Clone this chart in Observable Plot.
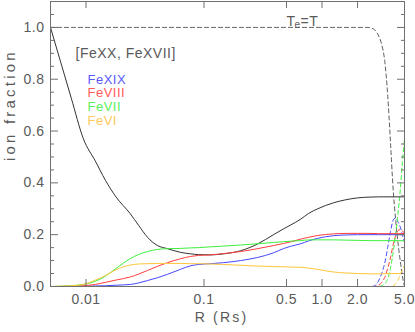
<!DOCTYPE html>
<html><head><meta charset="utf-8">
<script src="https://cdn.jsdelivr.net/npm/d3@7"></script>
<script src="https://cdn.jsdelivr.net/npm/@observablehq/plot@0.6"></script>
<style>
body{margin:0;background:#fff;}
#chart svg{display:block;font-family:"Liberation Sans",Arial,sans-serif;}
#chart svg text{letter-spacing:0.5px;}
#chart svg g.ylab text{letter-spacing:3.2px;}
#chart svg g.xlab text{letter-spacing:2.2px;}
</style></head><body><div id="chart"></div>
<script>
// radial grid (R in solar radii) for the solid curves
const r = [0.005, 0.0075, 0.0095, 0.012, 0.0146, 0.018, 0.0238, 0.028, 0.0332, 0.0404, 0.049, 0.063, 0.077, 0.09, 0.113, 0.146, 0.204, 0.284, 0.388, 0.47, 0.54, 0.66, 0.77, 0.92, 1.25, 1.6, 2.0, 2.5, 3.0, 4.0, 5.0];
const feXXXVII = [1.0, 0.727, 0.57, 0.484, 0.41, 0.345, 0.28, 0.235, 0.19, 0.158, 0.146, 0.132, 0.126, 0.123, 0.122, 0.126, 0.138, 0.164, 0.2, 0.222, 0.237, 0.26, 0.282, 0.3, 0.323, 0.335, 0.342, 0.345, 0.346, 0.346, 0.346];
const feXIX = [0, 0, 0.001, 0.002, 0.003, 0.005, 0.008, 0.014, 0.023, 0.034, 0.047, 0.066, 0.08, 0.085, 0.088, 0.092, 0.1, 0.112, 0.13, 0.146, 0.155, 0.165, 0.176, 0.186, 0.196, 0.199, 0.2, 0.2, 0.2, 0.2, 0.2];
const feVIII = [0, 0.001, 0.003, 0.008, 0.016, 0.025, 0.037, 0.048, 0.062, 0.078, 0.092, 0.107, 0.116, 0.12, 0.122, 0.127, 0.135, 0.146, 0.158, 0.166, 0.172, 0.183, 0.19, 0.197, 0.203, 0.205, 0.205, 0.205, 0.204, 0.204, 0.204];
const feVII = [0, 0.003, 0.008, 0.02, 0.04, 0.07, 0.108, 0.124, 0.135, 0.143, 0.146, 0.147, 0.149, 0.15, 0.153, 0.156, 0.16, 0.165, 0.17, 0.173, 0.175, 0.177, 0.18, 0.18, 0.18, 0.179, 0.178, 0.177, 0.177, 0.177, 0.177];
const feVI = [0, 0.003, 0.008, 0.025, 0.042, 0.065, 0.083, 0.087, 0.088, 0.089, 0.089, 0.089, 0.088, 0.088, 0.087, 0.085, 0.082, 0.079, 0.077, 0.076, 0.075, 0.074, 0.071, 0.066, 0.056, 0.052, 0.05, 0.049, 0.049, 0.05, 0.05];

// dashed curves (Te = T case)
const rDash = [0.005, 2.4, 2.6, 2.8, 3.0, 3.2, 3.4, 3.6, 3.8, 4.0, 4.2, 4.4, 4.6, 4.8, 5.0];
const teDash = [1, 1, 0.998, 0.99, 0.97, 0.935, 0.87, 0.74, 0.56, 0.38, 0.26, 0.17, 0.1, 0.04, 0.0];
const feXIXDash = [0, 0, 0, 0.003, 0.02, 0.05, 0.09, 0.15, 0.21, 0.255, 0.265, 0.25, 0.23, 0.2, 0.17];
const feVIIIDash = [0, 0, 0, 0, 0.005, 0.015, 0.035, 0.07, 0.11, 0.16, 0.195, 0.215, 0.22, 0.215, 0.205];
const feVIIDash = [0, 0, 0, 0, 0, 0.003, 0.01, 0.03, 0.07, 0.13, 0.2, 0.28, 0.37, 0.48, 0.57];
const feVIDash = [0, 0, 0, 0, 0, 0, 0, 0, 0, 0.003, 0.01, 0.025, 0.045, 0.065, 0.08];

const seriesNames = ["FeXX+FeXVII", "FeXIX", "FeVIII", "FeVII", "FeVI"];
const seriesColors = ["#333333", "#4646ff", "#ff3c3c", "#3cf03c", "#ffc53a"];
const legendNames = ["FeXIX", "FeVIII", "FeVII", "FeVI"];
const legendColors = ["#5a5aff", "#ff5a5a", "#5af05a", "#ffc85a"];

const xTicks = [0.01, 0.1, 0.5, 1, 2, 5];
const xTickLabels = ["0.01", "0.1", "0.5", "1.0", "2.0", "5.0"];
const yTicks = [0, 0.2, 0.4, 0.6, 0.8, 1.0];
const yTickLabels = ["0.0", "0.2", "0.4", "0.6", "0.8", "1.0"];
const yMinorTicks = [0.05, 0.1, 0.15, 0.25, 0.3, 0.35, 0.45, 0.5, 0.55, 0.65, 0.7, 0.75, 0.85, 0.9, 0.95, 1.05];

const xLabel = "R (Rs)";
const yLabel = "ion fraction";
const bracketLabel = "[FeXX, FeXVII]";

const solid = [feXXXVII, feXIX, feVIII, feVII, feVI];
const dashed = [teDash, feXIXDash, feVIIIDash, feVIIDash, feVIDash];

const axisColor = "#707070";
const textColor = "#5a5a5a";

const marks = [];
dashed.forEach((vals, k) => {
  marks.push(Plot.line(rDash.map((x, i) => ({r: x, v: vals[i]})), {
    x: "r", y: "v", stroke: seriesColors[k], strokeWidth: k === 0 ? 0.8 : 1, strokeDasharray: "4,3", curve: "monotone-x"
  }));
});
solid.forEach((vals, k) => {
  marks.push(Plot.line(r.map((x, i) => ({r: x, v: vals[i]})), {
    x: "r", y: "v", stroke: seriesColors[k], strokeWidth: 1, curve: "monotone-x"
  }));
});

marks.push(
  Plot.frame({stroke: axisColor}),
  // tick labels
  Plot.text(xTicks, {x: d => d, text: (d, i) => xTickLabels[i], frameAnchor: "bottom", dy: 17, fill: textColor, fontSize: 14}),
  Plot.axisY(yTicks, {anchor: "left", tickSize: 0, tickPadding: 6, tickFormat: d => yTickLabels[yTicks.indexOf(d)], label: null, fill: textColor, fontSize: 14}),
  // inward ticks
  Plot.axisX(xTicks, {anchor: "bottom", tickSize: 7, dy: -7, fill: "none", stroke: axisColor, label: null}),
  Plot.axisX(xTicks, {anchor: "top", tickSize: 6, dy: 6, fill: "none", stroke: axisColor, label: null}),
  Plot.axisY(yTicks, {anchor: "left", tickSize: 8, dx: 8, fill: "none", stroke: axisColor, label: null}),
  Plot.axisY(yMinorTicks, {anchor: "left", tickSize: 4, dx: 4, fill: "none", stroke: axisColor, label: null}),
  Plot.axisY(yTicks, {anchor: "right", tickSize: 8, dx: -8, fill: "none", stroke: axisColor, label: null}),
  Plot.axisY(yMinorTicks, {anchor: "right", tickSize: 4, dx: -4, fill: "none", stroke: axisColor, label: null}),
  // axis titles
  Plot.text([xLabel], {frameAnchor: "bottom", dx: -6, dy: 35, fill: textColor, fontSize: 14, className: "xlab"}),
  Plot.text([yLabel], {frameAnchor: "left", rotate: -90, dx: -40, dy: 17, fill: textColor, fontSize: 15, className: "ylab"}),
  // annotations
  Plot.text([bracketLabel], {frameAnchor: "top-left", textAnchor: "start", dx: 25, dy: 47, fill: textColor, fontSize: 14}),
  Plot.text(["T"], {frameAnchor: "top-left", textAnchor: "start", dx: 236, dy: 15, fill: textColor, fontSize: 14}),
  Plot.text(["e"], {frameAnchor: "top-left", textAnchor: "start", dx: 244, dy: 19, fill: textColor, fontSize: 10}),
  Plot.text(["=T"], {frameAnchor: "top-left", textAnchor: "start", dx: 250, dy: 15, fill: textColor, fontSize: 14})
);
legendNames.forEach((n, i) => {
  marks.push(Plot.text([n], {frameAnchor: "top-left", textAnchor: "start", dx: 37, dy: 73 + i * 13.6, fill: legendColors[i], fontSize: 13}));
});

const chart = Plot.plot({
  width: 415,
  height: 332,
  marginLeft: 50,
  marginRight: 11,
  marginTop: 1,
  marginBottom: 46,
  x: {type: "log", domain: [0.005, 5]},
  y: {domain: [0, 1.1]},
  style: {background: "#fff", fontFamily: "'Liberation Sans', Arial, sans-serif"},
  marks
});
document.getElementById("chart").appendChild(chart);
</script></body></html>
